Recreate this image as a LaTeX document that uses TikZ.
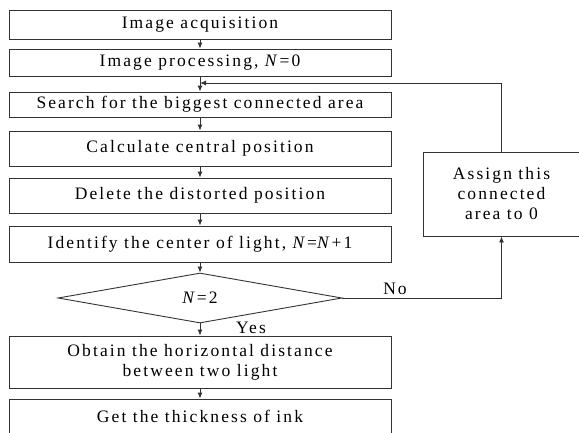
\documentclass[tikz,border=0pt]{standalone}
\usepackage{fontspec}
\setmainfont{Liberation Serif}[LetterSpace=12]
\usetikzlibrary{shapes.geometric,arrows.meta}
\begin{document}
\begin{tikzpicture}[x=1pt,y=-1pt,
  txt/.style={font=\fontsize{17.5}{20}\selectfont},
  box/.style={txt, draw=black!80, line width=0.9pt, minimum width=382pt, inner sep=0pt, align=center},
  dec/.style={txt, draw=black!80, line width=0.9pt, diamond, minimum width=284pt, minimum height=50pt, inner sep=0pt},
  arr/.style={draw=black!80, line width=0.9pt, -{Latex[length=6pt,width=5pt]}}]
\useasboundingbox (0,0) rectangle (579,432);
\node[box, minimum height=29pt] (b1) at (200,24.5) {Image acquisition};
\node[box, minimum height=27pt] (b2) at (200,62.5) {Image processing, \textit{N}=0};
\node[box, minimum height=25pt] (b3) at (200,104.5) {Search for the biggest connected area};
\node[box, minimum height=35pt] (b4) at (200,148.5) {Calculate central position};
\node[box, minimum height=35pt] (b5) at (200,195.5) {Delete the distorted position};
\node[box, minimum height=36pt] (b6) at (200,244) {Identify the center of light, \textit{N}=\textit{N}+1};
\node[dec] (d) at (200,298) {\textit{N}=2};
\node[box, minimum height=52pt] (b7) at (200,362) {Obtain the horizontal distance\\between two light};
\node[box, minimum height=35pt] (b8) at (200,416.5) {Get the thickness of ink};
\node[box, minimum width=157pt, minimum height=84pt] (as) at (501.5,194) {Assign this\\connected\\area to 0};
\coordinate (j) at (200,83);
\node[txt] (no) at (395,289) {No};
\node[txt] (yes) at (251,328) {Yes};
\draw[arr] (b1) -- (b2);
\draw[arr] (b2) -- (b3);
\draw[arr] (b3) -- (b4);
\draw[arr] (b4) -- (b5);
\draw[arr] (b5) -- (b6);
\draw[arr] (b6) -- (d);
\draw[arr] (d) -- (b7);
\draw[arr] (b7) -- (b8);
\draw[arr] (d.east) -| (as.south);
\draw[arr] (as.north) |- (j);
\end{tikzpicture}
\end{document}
